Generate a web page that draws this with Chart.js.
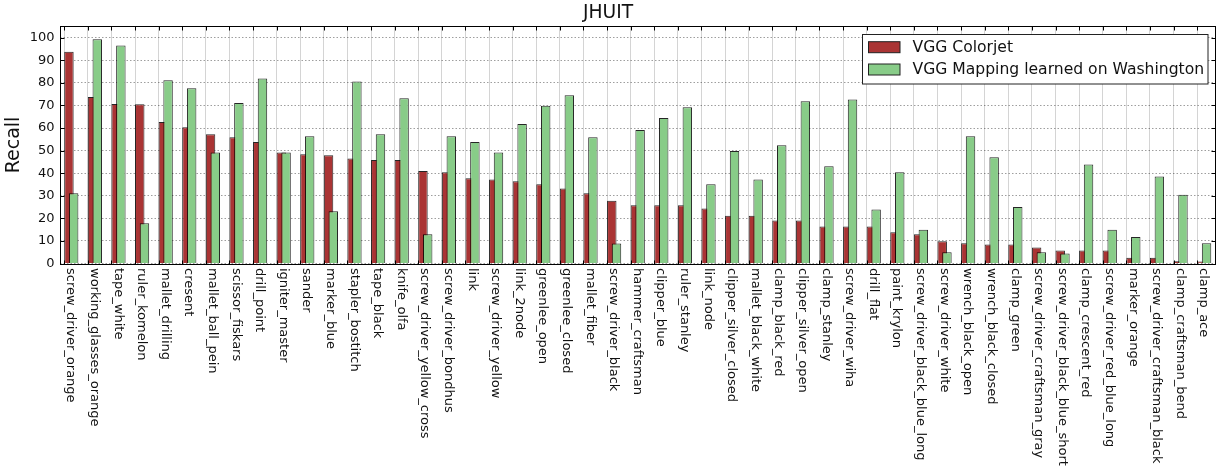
<!DOCTYPE html>
<html>
<head>
<meta charset="utf-8">
<script src="https://cdn.jsdelivr.net/npm/chart.js@4/dist/chart.umd.min.js"></script>
<style>
  body { margin: 0; background: #fff; }
  canvas { display: block; }
</style>
</head>
<body>
<canvas id="recallChart" width="1225" height="473"></canvas>
<script>
let categories = [
    'screw_driver_orange', 'working_glasses_orange', 'tape_white', 'ruler_komelon', 'mallet_drilling',
    'cresent', 'mallet_ball_pein', 'scissor_fiskars', 'drill_point', 'igniter_master', 'sander',
    'marker_blue', 'stapler_bostitch', 'tape_black', 'knife_olfa', 'screw_driver_yellow_cross',
    'screw_driver_bondhus', 'link', 'screw_driver_yellow', 'link_2node', 'greenlee_open',
    'greenlee_closed', 'mallet_fiber', 'screw_driver_black', 'hammer_craftsman', 'clipper_blue',
    'ruler_stanley', 'link_node', 'clipper_silver_closed', 'mallet_black_white', 'clamp_black_red',
    'clipper_silver_open', 'clamp_stanley', 'screw_driver_wiha', 'drill_flat', 'paint_krylon',
    'screw_driver_black_blue_long', 'screw_driver_white', 'wrench_black_open', 'wrench_black_closed',
    'clamp_green', 'screw_driver_craftsman_gray', 'screw_driver_black_blue_short', 'clamp_crescent_red',
    'screw_driver_red_blue_long', 'marker_orange', 'screw_driver_craftsman_black',
    'clamp_craftsman_bend', 'clamp_ace'
];

let colorjet = [
    93.8, 73.8, 70.7, 70.5, 62.7, 60.3, 57.2, 55.9, 53.8, 49.2, 48.4, 47.9, 46.5, 45.8, 45.8, 41.0,
    40.4, 37.8, 37.2, 36.4, 35.1, 33.2, 31.1, 27.8, 25.8, 25.8, 25.8, 24.4, 21.2, 21.2, 19.1, 19.1,
    16.4, 16.4, 16.4, 13.8, 13.0, 9.8, 9.0, 8.4, 8.4, 7.1, 5.8, 5.8, 5.8, 2.5, 2.5, 1.0, 0.9
];

let washington = [
    31.1, 99.3, 96.6, 17.8, 81.2, 77.6, 49.2, 71.1, 81.9, 49.2, 56.4, 23.1, 80.6, 57.2, 73.2, 13.0,
    56.4, 53.8, 49.2, 61.8, 69.9, 74.5, 55.9, 8.9, 59.1, 64.4, 69.2, 35.1, 49.8, 37.2, 52.4, 71.9,
    43.1, 72.6, 23.9, 40.4, 15.0, 5.0, 56.4, 47.1, 25.0, 5.0, 4.4, 43.9, 15.0, 11.7, 38.5, 30.5, 9.0
];

let yTickLabels = [0, 10, 20, 30, 40, 50, 60, 70, 80, 90, 100];

const n = categories.length;
Chart.defaults.font.family = "'DejaVu Sans', sans-serif";
Chart.defaults.color = '#111';

// rotated (top-to-bottom) category labels, matplotlib style
const xLabels = {
    id: 'xLabels',
    afterDraw(chart) {
        const ctx = chart.ctx;
        const x = chart.scales.x;
        ctx.save();
        ctx.font = "13px 'DejaVu Sans'";
        ctx.fillStyle = '#111';
        ctx.textAlign = 'left';
        ctx.textBaseline = 'middle';
        categories.forEach((name, i) => {
            ctx.save();
            ctx.translate(x.getPixelForValue(i) - 0.5, x.top + 4.5);
            ctx.rotate(Math.PI / 2);
            ctx.fillText(name, 0, 0);
            ctx.restore();
        });
        ctx.restore();
    }
};

// frame round the plot, inward tick marks, boxed legend in the upper right
const frameLegend = {
    id: 'frameLegend',
    afterDraw(chart) {
        const ctx = chart.ctx;
        const a = chart.chartArea;
        const x = chart.scales.x;
        const y = chart.scales.y;
        const L = Math.round(a.left) + 0.5, R = Math.round(a.right) - 0.5;
        const T = Math.round(a.top) + 0.5, B = Math.round(a.bottom) + 0.5;
        ctx.save();
        ctx.strokeStyle = '#000';
        ctx.lineWidth = 1;
        ctx.strokeRect(L, T, R - L, B - T);

        ctx.beginPath();
        x.ticks.forEach(t => {
            const px = Math.round(x.getPixelForValue(t.value)) + 0.5;
            ctx.moveTo(px, T); ctx.lineTo(px, T + 4);
            ctx.moveTo(px, B); ctx.lineTo(px, B - 4);
        });
        y.ticks.forEach(t => {
            const py = Math.round(y.getPixelForValue(t.value)) + 0.5;
            const len = t.value % 10 === 0 ? 4 : 2;
            ctx.moveTo(L, py); ctx.lineTo(L + len, py);
            ctx.moveTo(R, py); ctx.lineTo(R - len, py);
        });
        ctx.stroke();

        const box = { x: 862.5, y: 34.5, w: 345.5, h: 49.5 };
        ctx.fillStyle = '#fff';
        ctx.fillRect(box.x, box.y, box.w, box.h);
        ctx.strokeStyle = '#222';
        ctx.strokeRect(box.x, box.y, box.w, box.h);

        ctx.font = "15.6px 'DejaVu Sans'";
        ctx.textBaseline = 'middle';
        ctx.textAlign = 'left';
        chart.data.datasets.forEach((ds, i) => {
            const cy = 47.2 + i * 22.3;
            ctx.fillStyle = ds.backgroundColor;
            ctx.fillRect(868.5, cy - 5.5, 31.5, 11);
            ctx.strokeStyle = '#222';
            ctx.strokeRect(868.5, cy - 5.5, 31.5, 11);
            ctx.fillStyle = '#111';
            ctx.fillText(ds.label, 912.5, cy + 0.5);
        });
        ctx.restore();
    }
};

var recallChart = new Chart(document.getElementById('recallChart'), {
    type: 'bar',
    data: {
        datasets: [{
            label: 'VGG Colorjet',
            data: colorjet.map((v, i) => ({ x: i, y: v })),
            xAxisID: 'xRed',
            order: 1,
            backgroundColor: '#aa3434',
            borderColor: 'rgba(0, 0, 0, 0.85)',
            borderWidth: 1
        }, {
            label: 'VGG Mapping learned on Washington',
            data: washington.map((v, i) => ({ x: i, y: v })),
            xAxisID: 'xGreen',
            order: 0,
            backgroundColor: '#88cc88',
            borderColor: 'rgba(0, 0, 0, 0.85)',
            borderWidth: 1
        }]
    },
    options: {
        responsive: false,
        animation: false,
        grouped: false,
        categoryPercentage: 0.4,
        barPercentage: 1,
        layout: { padding: { left: 0, right: 9, top: 0, bottom: 0 } },
        plugins: {
            legend: { display: false },
            tooltip: { enabled: false },
            title: {
                display: true,
                text: 'JHUIT',
                color: '#111',
                font: { size: 18.7, weight: 'normal' },
                padding: { top: 2, bottom: 2 }
            }
        },
        scales: {
            // category slots: value i sits at the middle of slot i
            x: {
                type: 'linear',
                position: 'bottom',
                offset: false,
                min: -0.5,
                max: n - 0.5,
                grid: { color: '#d4d4d4', lineWidth: 1, drawTicks: false, offset: false },
                border: { display: false },
                ticks: { display: false },
                afterBuildTicks: (scale) => {
                    // gridlines at the left edge of each red bar
                    scale.ticks = categories.map((c, i) => ({ value: i - 0.3 }));
                },
                afterFit: (scale) => { scale.height = 209.5; }
            },
            xRed: {
                type: 'linear',
                display: false,
                offset: false,
                min: -0.4,
                max: n - 0.4
            },
            xGreen: {
                type: 'linear',
                display: false,
                offset: false,
                min: -0.6,
                max: n - 0.6
            },
            y: {
                min: 0,
                max: 105,
                border: {
                    display: false,
                    dash: (c) => c.tick && c.tick.value % 10 === 0 ? [1.5, 2] : [1, 3]
                },
                grid: {
                    drawTicks: false,
                    color: (c) => c.tick.value % 10 === 0 ? 'rgba(0,0,0,0.38)' : 'rgba(0,0,0,0.3)',
                    lineWidth: 1
                },
                ticks: {
                    stepSize: 5,
                    padding: 5,
                    color: '#111',
                    font: { size: 13 },
                    callback: (v) => yTickLabels.includes(v) ? v : ''
                },
                title: {
                    display: true,
                    text: 'Recall',
                    color: '#111',
                    font: { size: 19 },
                    padding: { top: 3, bottom: 0 }
                },
                afterFit: (scale) => { scale.width = 59.5; }
            }
        }
    },
    plugins: [xLabels, frameLegend]
});
</script>
</body>
</html>
